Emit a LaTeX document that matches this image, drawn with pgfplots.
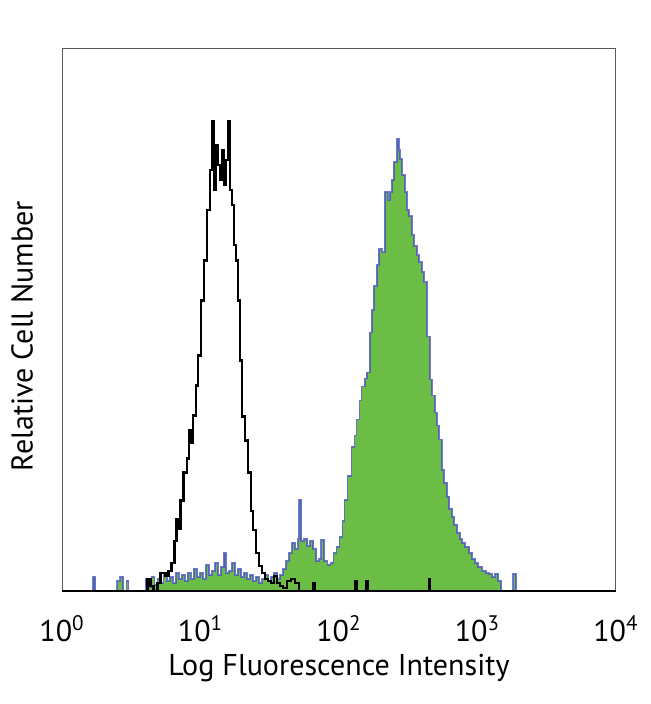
\documentclass[border=0pt]{standalone}
\usepackage{pgfplots}
\pgfplotsset{compat=1.18}
\usepackage{pgfplotstable}
\usepackage{fontspec}
\setmainfont{PT Sans}
\definecolor{fillgreen}{RGB}{108,189,69}
\definecolor{edgeblue}{RGB}{70,78,200}

% log10 intensity, count (relative)
\pgfplotstableread{
lx h
0.5000 0
0.6025 0
0.6171 12
0.6388 5
0.6606 0
0.6897 8
0.7114 18
0.7477 15
0.7695 20
0.7913 28
0.8131 50
0.8276 72
0.8421 62
0.8566 90
0.8784 118
0.9002 132
0.9147 160
0.9292 148
0.9437 175
0.9655 205
0.9800 235
1.0018 290
1.0236 330
1.0454 380
1.0672 420
1.0817 469
1.0962 400
1.1107 445
1.1252 425
1.1397 410
1.1543 440
1.1688 405
1.1833 430
1.1978 469
1.2123 400
1.2269 385
1.2414 345
1.2559 330
1.2704 290
1.2849 230
1.2995 174
1.3212 150
1.3430 118
1.3648 80
1.3793 61
1.4011 38
1.4229 25
1.4446 18
1.4664 12
1.4882 10
1.5100 8
1.5318 15
1.5535 8
1.5753 5
1.5971 3
1.6261 10
1.6552 12
1.6842 8
1.7132 0
1.8149 8
1.8229 0
2.1198 10
2.1278 0
2.1996 10
2.2076 0
2.6497 12
2.6577 0
2.9000 0
}\isotype

\pgfplotstableread{
lx h
0.2100 0
0.2250 14
0.2396 0
0.3993 10
0.4211 14
0.4428 0
0.4646 10
0.4791 0
0.6025 12
0.6243 4
0.6461 14
0.6679 6
0.6897 12
0.7114 8
0.7332 16
0.7550 10
0.7768 14
0.7985 8
0.8203 18
0.8421 12
0.8639 16
0.8857 10
0.9074 18
0.9292 12
0.9510 22
0.9728 14
0.9946 18
1.0163 12
1.0381 26
1.0599 16
1.0817 20
1.1034 28
1.1252 16
1.1470 24
1.1688 38
1.1833 18
1.2051 20
1.2269 28
1.2486 16
1.2704 22
1.2922 14
1.3140 18
1.3358 12
1.3575 16
1.3793 10
1.4011 14
1.4229 8
1.4446 12
1.4664 16
1.4882 10
1.5100 14
1.5318 18
1.5535 12
1.5753 16
1.5971 22
1.6189 30
1.6407 38
1.6624 48
1.6842 42
1.7060 52
1.7132 91
1.7278 50
1.7495 52
1.7713 45
1.7931 50
1.8149 42
1.8367 30
1.8584 32
1.8730 51
1.8947 30
1.9165 26
1.9383 28
1.9601 38
1.9818 44
2.0036 54
2.0254 70
2.0399 91
2.0617 115
2.0907 144
2.1125 155
2.1270 171
2.1488 190
2.1633 204
2.1851 212
2.1996 218
2.2214 258
2.2359 280
2.2505 304
2.2722 325
2.2867 341
2.3085 338
2.3303 398
2.3521 390
2.3666 398
2.3811 410
2.3956 428
2.4174 451
2.4319 440
2.4392 431
2.4537 415
2.4755 398
2.4900 380
2.5045 374
2.5263 355
2.5408 344
2.5626 335
2.5771 328
2.5989 318
2.6134 308
2.6352 254
2.6570 211
2.6715 195
2.6933 178
2.7078 165
2.7223 151
2.7441 121
2.7586 108
2.7804 94
2.7949 82
2.8167 74
2.8312 66
2.8530 58
2.8748 52
2.8893 48
2.9111 44
2.9401 38
2.9619 32
2.9837 28
3.0054 24
3.0345 20
3.0635 18
3.0853 17
3.1071 14
3.1288 17
3.1506 10
3.1724 0
3.2595 17
3.2813 0
3.4000 0
}\stained

\begin{document}
\begin{tikzpicture}
\begin{axis}[
  scale only axis,
  width=276.5pt, height=270.5pt,
  xmin=0, xmax=4, ymin=0, ymax=541,
  xtick={0,1,2,3,4},
  xticklabels={10\textsuperscript{0},10\textsuperscript{1},10\textsuperscript{2},10\textsuperscript{3},10\textsuperscript{4}},
  ytick=\empty,
  major tick length=0pt,
  axis line style={draw=black!65, line width=0.5pt},
  xticklabel style={font=\fontsize{15}{18}\selectfont, anchor=center, yshift=-19pt},
  xlabel={Log Fluorescence Intensity},
  ylabel={Relative Cell Number},
  label style={font=\fontsize{15}{18}\selectfont},
  xlabel style={at={(axis description cs:0.5,-0.143)}, anchor=center},
  ylabel style={at={(axis description cs:-0.072,0.47)}, anchor=center, rotate=0},
  clip=false,
]
\addplot[const plot, fill=fillgreen, draw=none] table[x=lx,y=h] {\stained} \closedcycle;
\addplot[const plot, draw=edgeblue, draw opacity=0.75, line width=0.9pt] table[x=lx,y=h] {\stained};
\addplot[const plot, draw=black, line width=1.2pt] table[x=lx,y=h] {\isotype};
\draw[black, line width=1.1pt] (rel axis cs:0,0) -- (rel axis cs:1,0);
\end{axis}
\pgfresetboundingbox
\path (-31pt,-56.5pt) rectangle (294pt,295pt);
\end{tikzpicture}
\end{document}
